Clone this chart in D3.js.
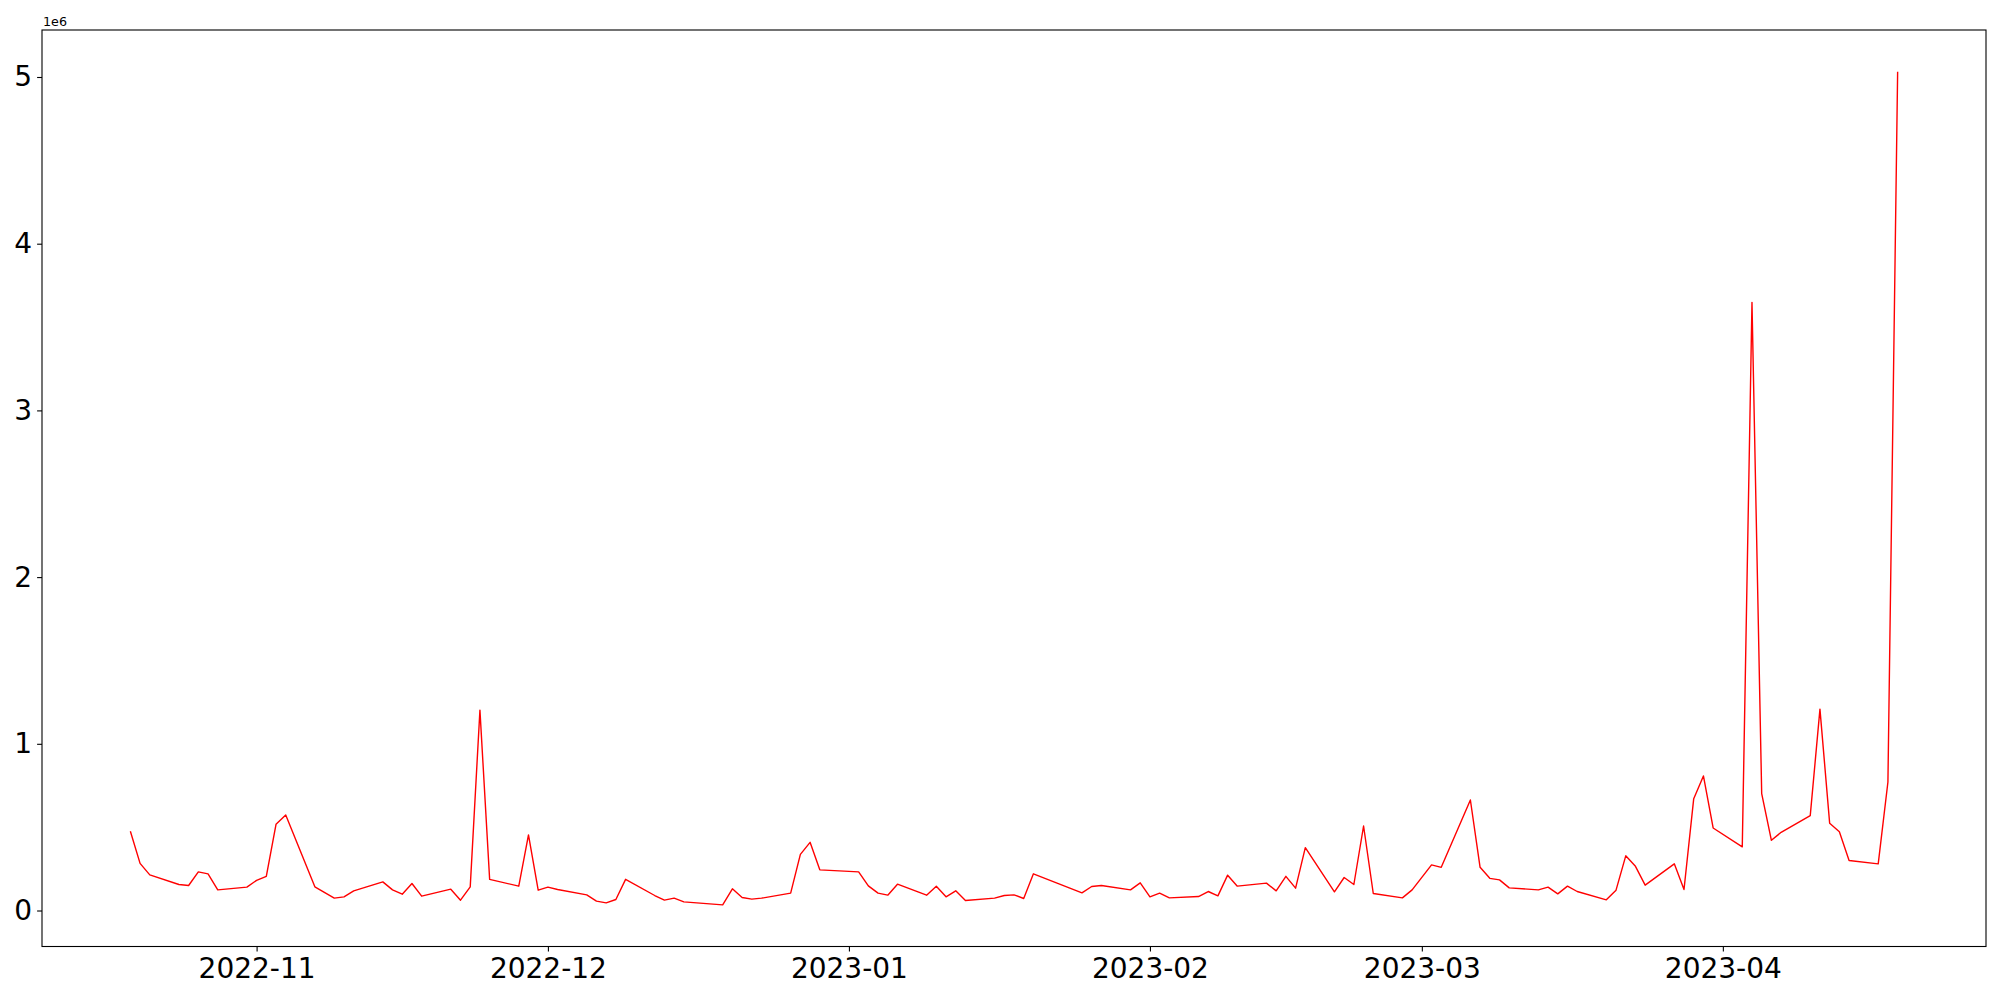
<!DOCTYPE html>
<html>
<head>
<meta charset="utf-8">
<script src="https://cdn.jsdelivr.net/npm/d3@7"></script>
<style>
  body { margin: 0; background: #fff; }
  text { font-family: "DejaVu Sans", sans-serif; }
</style>
</head>
<body>
<script>
var dates = [
  "2022-10-19", "2022-10-20", "2022-10-21", "2022-10-24", "2022-10-25", "2022-10-26", "2022-10-27", "2022-10-28",
  "2022-10-31", "2022-11-01", "2022-11-02", "2022-11-03", "2022-11-04", "2022-11-07", "2022-11-09", "2022-11-10",
  "2022-11-11", "2022-11-14", "2022-11-15", "2022-11-16", "2022-11-17", "2022-11-18", "2022-11-21", "2022-11-22",
  "2022-11-23", "2022-11-24", "2022-11-25", "2022-11-28", "2022-11-29", "2022-11-30", "2022-12-01", "2022-12-02",
  "2022-12-05", "2022-12-06", "2022-12-07", "2022-12-08", "2022-12-09", "2022-12-12", "2022-12-13", "2022-12-14",
  "2022-12-15", "2022-12-19", "2022-12-20", "2022-12-21", "2022-12-22", "2022-12-23", "2022-12-26", "2022-12-27",
  "2022-12-28", "2022-12-29", "2023-01-02", "2023-01-03", "2023-01-04", "2023-01-05", "2023-01-06", "2023-01-09",
  "2023-01-10", "2023-01-11", "2023-01-12", "2023-01-13", "2023-01-16", "2023-01-17", "2023-01-18", "2023-01-19",
  "2023-01-20", "2023-01-25", "2023-01-26", "2023-01-27", "2023-01-30", "2023-01-31", "2023-02-01", "2023-02-02",
  "2023-02-03", "2023-02-06", "2023-02-07", "2023-02-08", "2023-02-09", "2023-02-10", "2023-02-13", "2023-02-14",
  "2023-02-15", "2023-02-16", "2023-02-17", "2023-02-20", "2023-02-21", "2023-02-22", "2023-02-23", "2023-02-24",
  "2023-02-27", "2023-02-28", "2023-03-02", "2023-03-03", "2023-03-06", "2023-03-07", "2023-03-08", "2023-03-09",
  "2023-03-10", "2023-03-13", "2023-03-14", "2023-03-15", "2023-03-16", "2023-03-17", "2023-03-20", "2023-03-21",
  "2023-03-22", "2023-03-23", "2023-03-24", "2023-03-27", "2023-03-28", "2023-03-29", "2023-03-30", "2023-03-31",
  "2023-04-03", "2023-04-04", "2023-04-05", "2023-04-06", "2023-04-07", "2023-04-10", "2023-04-11", "2023-04-12",
  "2023-04-13", "2023-04-14", "2023-04-17", "2023-04-18", "2023-04-19"
];

var values = [
  475000, 283000, 214000, 156000, 150000, 232000, 220000, 124000,
  140000, 181000, 205000, 517000, 573000, 142000, 74000, 82000,
  118000, 172000, 124000, 98000, 162000, 86000, 128000, 62000,
  142000, 1202000, 187000, 146000, 453000, 122000, 140000, 126000,
  94000, 56000, 46000, 66000, 187000, 90000, 62000, 74000,
  52000, 34000, 130000, 78000, 68000, 74000, 104000, 337000,
  409000, 244000, 232000, 148000, 104000, 92000, 158000, 92000,
  146000, 82000, 118000, 60000, 74000, 90000, 94000, 72000,
  220000, 106000, 144000, 150000, 124000, 166000, 82000, 104000,
  76000, 84000, 114000, 88000, 212000, 146000, 164000, 118000,
  205000, 134000, 377000, 112000, 198000, 156000, 507000, 102000,
  76000, 124000, 274000, 259000, 663000, 259000, 193000, 184000,
  136000, 124000, 140000, 100000, 146000, 114000, 64000, 122000,
  328000, 265000, 152000, 280000, 126000, 671000, 807000, 495000,
  382000, 3648000, 701000, 421000, 469000, 569000, 1208000, 523000,
  473000, 300000, 280000, 771000, 5032000
];

var yTicks = [0, 1000000, 2000000, 3000000, 4000000, 5000000];
var offsetLabel = "1e6";

window.onload = function () {
  var width = 2000;
  var height = 1000;
  var plotLeft = 42, plotRight = 1986, plotTop = 30, plotBottom = 946.5;
  var tickLen = 4.9;

  var parse = d3.timeParse("%Y-%m-%d");
  var data = [];
  for (var i = 0; i < dates.length; i++) {
    data.push({date: parse(dates[i]), value: values[i]});
  }

  // matplotlib style 5% margins
  var xExt = d3.extent(data, function(d) { return d.date; });
  var xPad = (xExt[1] - xExt[0]) * 0.05;
  var yExt = d3.extent(data, function(d) { return d.value; });
  var yPad = (yExt[1] - yExt[0]) * 0.05;

  var x = d3.scaleTime()
    .domain([new Date(+xExt[0] - xPad), new Date(+xExt[1] + xPad)])
    .range([plotLeft, plotRight]);

  var y = d3.scaleLinear()
    .domain([yExt[0] - yPad, yExt[1] + yPad])
    .range([plotBottom, plotTop]);

  var svg = d3.select("body").append("svg").attr("width", width).attr("height", height);

  var line = d3.line()
    .x(function(d) { return x(d.date); })
    .y(function(d) { return y(d.value); });

  svg.append("path")
    .datum(data)
    .attr("d", line)
    .attr("fill", "none")
    .attr("stroke", "red")
    .attr("stroke-width", 1.4)
    .attr("stroke-linejoin", "round");

  var xAxis = svg.append("g")
    .attr("transform", "translate(0," + plotBottom + ")")
    .call(d3.axisBottom(x)
      .ticks(d3.timeMonth.every(1))
      .tickFormat(d3.timeFormat("%Y-%m"))
      .tickSizeOuter(0)
      .tickSize(tickLen)
      .tickPadding(6));

  var yAxis = svg.append("g")
    .attr("transform", "translate(" + plotLeft + ",0)")
    .call(d3.axisLeft(y)
      .tickValues(yTicks)
      .tickFormat(function(d) { return d / 1000000; })
      .tickSizeOuter(0)
      .tickSize(tickLen)
      .tickPadding(5));

  svg.selectAll(".domain").remove();
  svg.selectAll(".tick line").attr("stroke", "#000").attr("stroke-width", 1.1);
  svg.selectAll(".tick text")
    .attr("fill", "#000")
    .style("font-size", "28px")
    .style("font-family", "'DejaVu Sans', sans-serif");
  xAxis.selectAll(".tick text").attr("dy", "0.74em");

  // frame
  svg.append("rect")
    .attr("x", plotLeft)
    .attr("y", plotTop)
    .attr("width", plotRight - plotLeft)
    .attr("height", plotBottom - plotTop)
    .attr("fill", "none")
    .attr("stroke", "#000")
    .attr("stroke-width", 1.1);

  svg.append("text")
    .attr("x", plotLeft + 1)
    .attr("y", 26)
    .text(offsetLabel)
    .style("font-size", "12.7px")
    .attr("fill", "#000");
};
</script>
</body>
</html>
